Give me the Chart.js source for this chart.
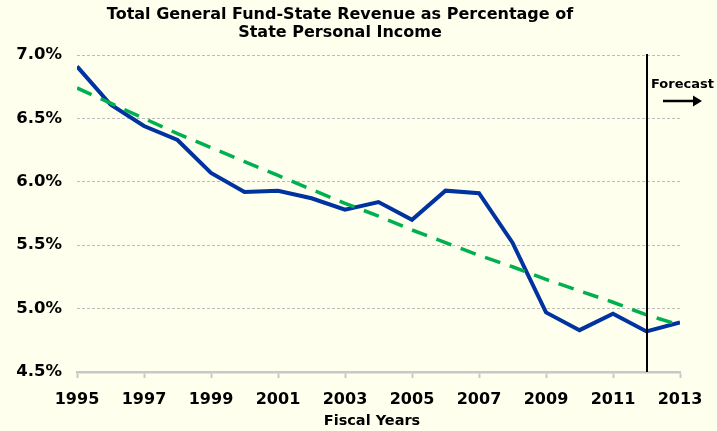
<!DOCTYPE html>
<html>
<head>
<meta charset="utf-8">
<script src="https://cdn.jsdelivr.net/npm/chart.js@4/dist/chart.umd.min.js"></script>
<style>
  html, body { margin: 0; padding: 0; background: #FFFFEE; }
  #wrap { width: 717px; height: 431px; }
</style>
</head>
<body>
<div id="wrap"><canvas id="c" width="717" height="431"></canvas></div>
<script>
const titleLines = ['Total General Fund-State Revenue as Percentage of', 'State Personal Income'];
const xTitle = 'Fiscal Years';
const forecastLabel = 'Forecast';
const forecastYear = 2012;

const years = [1995, 1996, 1997, 1998, 1999, 2000, 2001, 2002, 2003, 2004, 2005, 2006, 2007, 2008, 2009, 2010, 2011, 2012, 2013];
const revenuePct = [6.91, 6.61, 6.44, 6.33, 6.07, 5.92, 5.93, 5.87, 5.78, 5.84, 5.70, 5.93, 5.91, 5.52, 4.97, 4.83, 4.96, 4.82, 4.89];
const trendPct = [6.74, 6.62, 6.50, 6.38, 6.27, 6.16, 6.05, 5.94, 5.83, 5.73, 5.62, 5.52, 5.42, 5.33, 5.23, 5.14, 5.05, 4.95, 4.87];
const yTicks = [4.5, 5.0, 5.5, 6.0, 6.5, 7.0];
const xTicks = [1995, 1997, 1999, 2001, 2003, 2005, 2007, 2009, 2011, 2013];

const FONT = '"DejaVu Sans", Verdana, sans-serif';

const bgPlugin = {
  id: 'bg',
  beforeDraw(chart) {
    const ctx = chart.ctx;
    ctx.save();
    ctx.fillStyle = '#FFFFEE';
    ctx.fillRect(0, 0, chart.width, chart.height);
    ctx.restore();
  }
};

const forecastPlugin = {
  id: 'forecast',
  afterDatasetsDraw(chart) {
    const ctx = chart.ctx;
    const xs = chart.scales.x;
    const ca = chart.chartArea;
    const x = Math.round(xs.getPixelForValue(forecastYear));
    ctx.save();
    ctx.strokeStyle = '#000000';
    ctx.lineWidth = 2;
    ctx.beginPath();
    ctx.moveTo(x, ca.top - 1);
    ctx.lineTo(x, ca.bottom);
    ctx.stroke();
    // label
    ctx.fillStyle = '#000000';
    ctx.font = 'bold 13px ' + FONT;
    ctx.textAlign = 'left';
    ctx.textBaseline = 'alphabetic';
    ctx.fillText(forecastLabel, x + 4, 88);
    // arrow
    const ay = 101;
    ctx.lineWidth = 2.5;
    ctx.beginPath();
    ctx.moveTo(x + 16, ay);
    ctx.lineTo(x + 48, ay);
    ctx.stroke();
    ctx.beginPath();
    ctx.moveTo(x + 55, ay);
    ctx.lineTo(x + 46, ay - 5.5);
    ctx.lineTo(x + 46, ay + 5.5);
    ctx.closePath();
    ctx.fill();
    // x axis title
    ctx.font = 'bold 14.5px ' + FONT;
    ctx.textAlign = 'center';
    ctx.textBaseline = 'middle';
    ctx.fillText(xTitle, 372, 421.5);
    ctx.restore();
  }
};

const revenuePoints = years.map((y, i) => ({ x: y, y: revenuePct[i] }));
const trendPoints = years.map((y, i) => ({ x: y, y: trendPct[i] }));

new Chart(document.getElementById('c'), {
  type: 'line',
  data: {
    datasets: [
      {
        label: 'Trend',
        data: trendPoints,
        borderColor: '#00B050',
        borderWidth: 3.5,
        borderDash: [16, 10],
        pointRadius: 0,
        tension: 0,
        fill: false,
        order: 0
      },
      {
        label: 'GF-S Revenue % of Personal Income',
        data: revenuePoints,
        borderColor: '#0033A0',
        borderWidth: 4,
        pointRadius: 0,
        tension: 0,
        fill: false,
        borderJoinStyle: 'miter',
        order: 1
      }
    ]
  },
  options: {
    responsive: false,
    animation: false,
    devicePixelRatio: 1,
    layout: { padding: { left: 0, right: 37, top: 0, bottom: 0 } },
    plugins: {
      legend: { display: false },
      tooltip: { enabled: false },
      title: {
        display: true,
        text: titleLines,
        color: '#000000',
        font: { family: FONT, size: 16, weight: 'bold', lineHeight: 1.1 },
        padding: { top: 6, bottom: 13.8 }
      }
    },
    scales: {
      x: {
        type: 'linear',
        min: 1995,
        max: 2013,
        afterBuildTicks(axis) { axis.ticks = xTicks.map(v => ({ value: v })); },
        afterFit(axis) { axis.height = 59; },
        ticks: {
          color: '#000000',
          font: { family: FONT, size: 16, weight: 'bold' },
          padding: 12,
          maxRotation: 0,
          autoSkip: false,
          callback: (v) => String(v)
        },
        grid: {
          drawOnChartArea: false,
          drawTicks: true,
          tickLength: 6,
          tickColor: '#C8C8C8',
          tickWidth: 2
        },
        border: { display: true, color: '#C8C8C8', width: 2.5 }
      },
      y: {
        min: 4.5,
        max: 7.0,
        afterBuildTicks(axis) { axis.ticks = yTicks.map(v => ({ value: v })); },
        afterFit(axis) { axis.width = 77; },
        ticks: {
          color: '#000000',
          font: { family: FONT, size: 16.5, weight: 'bold' },
          padding: 15,
          callback: (v) => Number(v).toFixed(1) + '%'
        },
        grid: {
          drawTicks: false,
          color: '#BDBDBD',
          lineWidth: 1
        },
        border: { display: false, dash: [3, 2] }
      }
    }
  },
  plugins: [bgPlugin, forecastPlugin]
});
</script>
</body>
</html>
